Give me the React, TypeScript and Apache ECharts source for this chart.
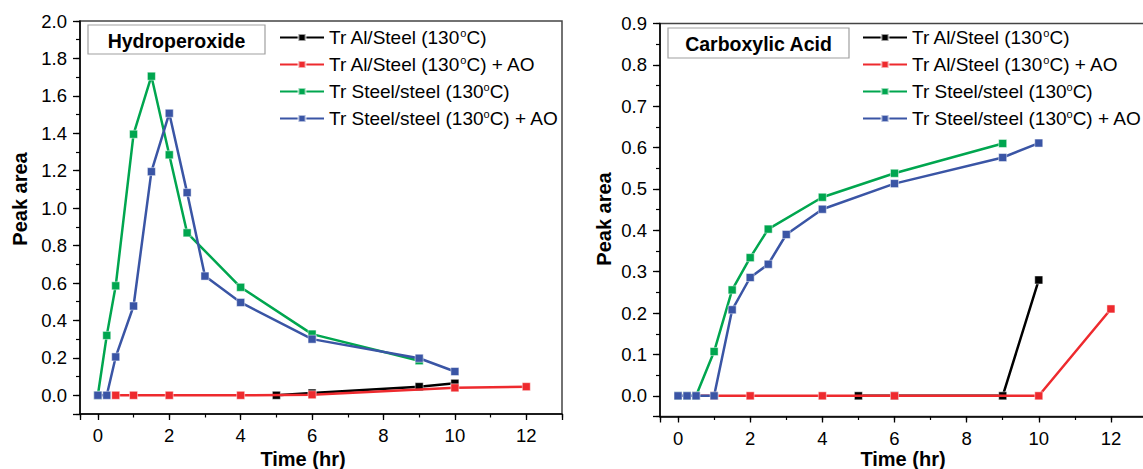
import React, { useEffect, useRef } from 'react';
import * as echarts from 'echarts';

const seriesNames = [
  'Tr Al/Steel (130°C)',
  'Tr Al/Steel (130°C) + AO',
  'Tr Steel/steel (130°C)',
  'Tr Steel/steel (130°C) + AO',
];
const seriesColors = ['#000000', '#ee2a2e', '#00a64f', '#3a55a5'];

// Hydroperoxide panel
const hpAlTime = [5, 6, 9, 10];
const hpAl = [0.0, 0.012, 0.046, 0.064];
const hpAlAOTime = [0.5, 1, 2, 4, 6, 10, 12];
const hpAlAO = [0, 0, 0, 0, 0.003, 0.04, 0.046];
const hpSteelTime = [0, 0.25, 0.5, 1, 1.5, 2, 2.5, 4, 6, 9];
const hpSteel = [0, 0.32, 0.585, 1.395, 1.705, 1.285, 0.868, 0.577, 0.327, 0.185];
const hpSteelAOTime = [0, 0.25, 0.5, 1, 1.5, 2, 2.5, 3, 4, 6, 9, 10];
const hpSteelAO = [0, 0, 0.205, 0.477, 1.195, 1.507, 1.083, 0.637, 0.496, 0.3, 0.198, 0.127];

// Carboxylic acid panel
const caAlTime = [5, 6, 9, 10];
const caAl = [0, 0, 0, 0.28];
const caAlAOTime = [0.5, 1, 2, 4, 6, 10, 12];
const caAlAO = [0, 0, 0, 0, 0, 0, 0.21];
const caSteelTime = [0, 0.25, 0.5, 1, 1.5, 2, 2.5, 4, 6, 9];
const caSteel = [0, 0, 0, 0.107, 0.256, 0.334, 0.403, 0.48, 0.538, 0.61];
const caSteelAOTime = [0, 0.25, 0.5, 1, 1.5, 2, 2.5, 3, 4, 6, 9, 10];
const caSteelAO = [0, 0, 0, 0, 0.208, 0.286, 0.318, 0.39, 0.451, 0.513, 0.576, 0.611];

// Axis ranges / ticks
const xRange = [-0.5, 13];
const xMajorStep = 2;
const xMinorStep = 1;
const hpYRange = [-0.1, 2.0];
const hpYMajorStep = 0.2;
const hpYMinorStep = 0.1;
const caYRange = [-0.05, 0.9];
const caYMajorStep = 0.1;
const caYMinorStep = 0.05;

const panelTitles = ['Hydroperoxide', 'Carboxylic Acid'];
const xAxisTitle = 'Time (hr)';
const yAxisTitle = 'Peak area';

const FONT = '"Liberation Sans", Arial, Helvetica, sans-serif';

function pairs(t: number[], v: number[]) {
  return t.map((x, i) => [x, v[i]]);
}

function xAxes(gridIndex: number) {
  const common = {
    type: 'value',
    gridIndex,
    min: xRange[0],
    max: xRange[1],
    position: 'bottom',
    splitLine: { show: false },
  };
  return [
    {
      ...common,
      minInterval: xMajorStep,
      maxInterval: xMajorStep,
      axisLine: { show: true, onZero: false, lineStyle: { color: '#000', width: 1.5 } },
      axisTick: { show: true, inside: false, length: 6, lineStyle: { color: '#000', width: 1.3 } },
      axisLabel: {
        show: true,
        margin: 12,
        fontSize: 18.5,
        fontFamily: FONT,
        color: '#000',
        formatter: (v: number) =>
          Math.abs(v - Math.round(v)) < 1e-9 && Math.round(v) % 2 === 0 && v >= 0 && v <= 12
            ? String(Math.round(v))
            : '',
      },
    },
    {
      ...common,
      minInterval: xMinorStep,
      maxInterval: xMinorStep,
      axisLine: { show: false, onZero: false },
      axisTick: { show: true, inside: false, length: 3.5, lineStyle: { color: '#000', width: 1.2 } },
      axisLabel: { show: false },
    },
  ];
}

function yAxes(gridIndex: number, range: number[], major: number, minor: number) {
  const common = {
    type: 'value',
    gridIndex,
    min: range[0],
    max: range[1],
    position: 'left',
    splitLine: { show: false },
  };
  return [
    {
      ...common,
      minInterval: major,
      maxInterval: major,
      axisLine: { show: true, onZero: false, lineStyle: { color: '#000', width: 1.5 } },
      axisTick: { show: true, inside: false, length: 7, lineStyle: { color: '#000', width: 1.3 } },
      axisLabel: {
        show: true,
        margin: 13,
        fontSize: 18.5,
        fontFamily: FONT,
        color: '#000',
        formatter: (v: number) => (v < -1e-9 ? '' : v.toFixed(1)),
      },
    },
    {
      ...common,
      minInterval: minor,
      maxInterval: minor,
      axisLine: { show: false, onZero: false },
      axisTick: { show: true, inside: false, length: 4, lineStyle: { color: '#000', width: 1.2 } },
      axisLabel: { show: false },
    },
  ];
}

function makeSeries(gridIndex: number, data: number[][][]) {
  return data.map((d, i) => ({
    name: seriesNames[i],
    type: 'line',
    xAxisIndex: gridIndex * 2,
    yAxisIndex: gridIndex * 2,
    data: d,
    symbol: 'rect',
    symbolSize: 8,
    showSymbol: true,
    color: seriesColors[i],
    lineStyle: { color: seriesColors[i], width: 2.5 },
    itemStyle: { color: seriesColors[i], borderColor: 'rgba(255,255,255,0.6)', borderWidth: 0.8 },
    emphasis: { disabled: true },
    z: 2 + i,
  }));
}

function legend(left: number, top: number) {
  return {
    data: seriesNames,
    orient: 'vertical',
    left,
    top,
    padding: 0,
    itemWidth: 44,
    itemHeight: 9,
    itemGap: 7,
    selectedMode: false,
    formatter: (name: string) => name.replace('°', '{sup|o}'),
    textStyle: {
      fontSize: 19,
      fontFamily: FONT,
      color: '#000',
      lineHeight: 20,
      rich: {
        sup: { fontSize: 11, lineHeight: 10, verticalAlign: 'top', fontFamily: FONT, color: '#000' },
      },
    },
  };
}

function titleBox(x: number, y: number, w: number, h: number, text: string) {
  return {
    type: 'group',
    children: [
      {
        type: 'rect',
        shape: { x, y, width: w, height: h },
        style: { fill: '#fff', stroke: '#a0a0a0', lineWidth: 1.2 },
        z: 10,
      },
      {
        type: 'text',
        x: x + w / 2,
        y: y + h / 2 + 1,
        style: {
          text,
          align: 'center',
          verticalAlign: 'middle',
          fontSize: 19.5,
          fontWeight: 'bold',
          fontFamily: FONT,
          fill: '#000',
        },
        z: 11,
      },
    ],
  };
}

function axisTitle(x: number, y: number, text: string, vertical: boolean) {
  return {
    type: 'text',
    x,
    y,
    rotation: vertical ? Math.PI / 2 : 0,
    style: {
      text,
      align: 'center',
      verticalAlign: 'middle',
      fontSize: 20,
      fontWeight: 'bold',
      fontFamily: FONT,
      fill: '#000',
    },
    z: 10,
  };
}

export default function App() {
  const ref = useRef<HTMLDivElement>(null);

  useEffect(() => {
    if (!ref.current) return;
    const chart = echarts.init(ref.current, undefined, { renderer: 'svg' });
    const option = {
      animation: false,
      backgroundColor: '#fff',
      grid: [
        { left: 80, top: 21, width: 482, height: 393, outerBoundsMode: 'none', containLabel: false, show: true, borderColor: '#444', borderWidth: 1.5, backgroundColor: 'transparent' },
        { left: 660, top: 23.5, width: 487, height: 393, outerBoundsMode: 'none', containLabel: false, show: true, borderColor: '#444', borderWidth: 1.5, backgroundColor: 'transparent' },
      ],
      xAxis: [...xAxes(0), ...xAxes(1)],
      yAxis: [
        ...yAxes(0, hpYRange, hpYMajorStep, hpYMinorStep),
        ...yAxes(1, caYRange, caYMajorStep, caYMinorStep),
      ],
      legend: [legend(279, 27.5), legend(862, 27.5)],
      series: [
        ...makeSeries(0, [
          pairs(hpAlTime, hpAl),
          pairs(hpAlAOTime, hpAlAO),
          pairs(hpSteelTime, hpSteel),
          pairs(hpSteelAOTime, hpSteelAO),
        ]),
        ...makeSeries(1, [
          pairs(caAlTime, caAl),
          pairs(caAlAOTime, caAlAO),
          pairs(caSteelTime, caSteel),
          pairs(caSteelAOTime, caSteelAO),
        ]),
      ],
      graphic: [
        titleBox(88, 25, 177, 29, panelTitles[0]),
        titleBox(668, 28, 181, 30, panelTitles[1]),
        axisTitle(19.5, 199, yAxisTitle, true),
        axisTitle(604, 219, yAxisTitle, true),
        axisTitle(303, 459, xAxisTitle, false),
        axisTitle(903, 459, xAxisTitle, false),
      ],
    };
    chart.setOption(option as any);
    return () => chart.dispose();
  }, []);

  return (
    <div
      ref={ref}
      style={{ position: 'absolute', left: 0, top: 0, width: 1143, height: 469, background: '#fff' }}
    />
  );
}
